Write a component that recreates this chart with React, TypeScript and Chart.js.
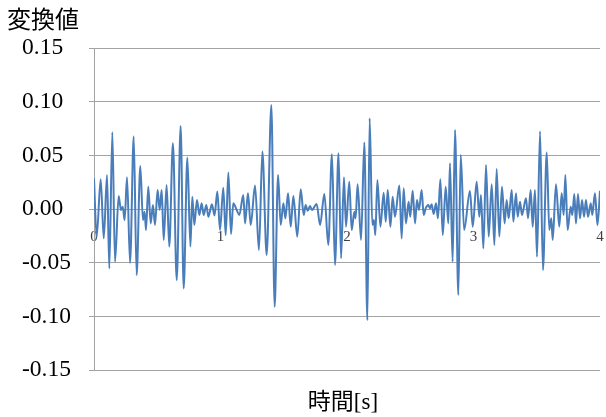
import { useEffect, useRef } from "react";
import { Chart, registerables } from "chart.js";

Chart.register(...registerables);

// Sample times [s] at the turning points of the transformed signal
const timeSec = [
  0.0, 0.021, 0.053, 0.077, 0.103, 0.121, 0.145, 0.166, 0.195, 0.213,
  0.227, 0.242, 0.261, 0.285, 0.314, 0.337, 0.366, 0.387, 0.4, 0.411,
  0.429, 0.448, 0.466, 0.482, 0.503, 0.519, 0.535, 0.551, 0.574, 0.595,
  0.624, 0.654, 0.685, 0.709, 0.738, 0.762, 0.777, 0.793, 0.814, 0.833,
  0.851, 0.867, 0.888, 0.904, 0.932, 0.953, 0.975, 0.996, 1.022, 1.041,
  1.062, 1.083, 1.101, 1.128, 1.149, 1.18, 1.194, 1.217, 1.239, 1.273,
  1.304, 1.331, 1.365, 1.402, 1.428, 1.455, 1.476, 1.497, 1.513, 1.534,
  1.555, 1.576, 1.607, 1.634, 1.658, 1.673, 1.689, 1.708, 1.723, 1.76,
  1.787, 1.821, 1.852, 1.881, 1.905, 1.933, 1.953, 1.976, 1.992, 2.018,
  2.037, 2.058, 2.068, 2.084, 2.111, 2.137, 2.161, 2.179, 2.2, 2.213,
  2.224, 2.24, 2.264, 2.29, 2.306, 2.322, 2.343, 2.361, 2.379, 2.414,
  2.432, 2.448, 2.466, 2.487, 2.5, 2.519, 2.538, 2.553, 2.569, 2.59,
  2.606, 2.622, 2.643, 2.656, 2.669, 2.685, 2.704, 2.719, 2.738, 2.757,
  2.78, 2.801, 2.814, 2.835, 2.854, 2.88, 2.899, 2.926, 2.972, 2.994,
  3.025, 3.046, 3.059, 3.078, 3.099, 3.12, 3.144, 3.165, 3.183, 3.204,
  3.225, 3.246, 3.262, 3.278, 3.302, 3.315, 3.336, 3.349, 3.368, 3.383,
  3.415, 3.431, 3.452, 3.468, 3.486, 3.502, 3.526, 3.549, 3.579, 3.599,
  3.615, 3.626, 3.652, 3.678, 3.697, 3.713, 3.726, 3.744, 3.768, 3.781,
  3.797, 3.81, 3.826, 3.842, 3.858, 3.874, 3.889, 3.905, 3.927, 3.939,
  3.96, 3.98, 4.0,
];

// Transformed value at each of those times
const amplitude = [
  0.0286, -0.0258, 0.0277, -0.0274, 0.0317, -0.0554, 0.0715, -0.0491, 0.0121, -0.0009,
  0.0022, -0.0103, 0.0295, -0.0501, 0.0675, -0.0616, 0.0401, -0.0103, -0.0025, -0.0196,
  0.0208, -0.0134, 0.0037, -0.0149, 0.0177, -0.0009, 0.0177, -0.0289, 0.0224, -0.0351,
  0.0613, -0.0662, 0.0774, -0.074, 0.0479, -0.035, 0.0115, -0.0149, 0.0084, -0.0056,
  0.0053, -0.0056, 0.0037, -0.0072, 0.0045, -0.006, 0.0162, -0.0196, 0.0199, -0.0243,
  0.0339, -0.0233, 0.0053, -0.0009, -0.0056, 0.0131, -0.0134, 0.0146, -0.0149, 0.0218,
  -0.0383, 0.0535, -0.0429, 0.097, -0.0911, 0.0317, -0.0149, 0.0053, -0.0087, 0.0146,
  -0.0165, 0.0121, -0.0258, 0.0183, -0.0056, 0.0037, -0.0016, 0.0028, -0.0009, 0.0047,
  -0.0149, 0.014, -0.0336, 0.0513, -0.0522, 0.0519, -0.046, 0.0295, -0.0165, 0.0255,
  -0.0196, -0.0025, -0.0087, 0.023, -0.0289, 0.0619, -0.1036, 0.0846, -0.0149, -0.0103,
  -0.0243, 0.0271, -0.0165, 0.0152, -0.0118, 0.0177, -0.0165, 0.0115, -0.0072, 0.0218,
  -0.0274, 0.0193, -0.0134, 0.0068, -0.0072, 0.0171, -0.0134, 0.0084, -0.0009, 0.0177,
  -0.0056, 0.0006, 0.0037, 0.0006, 0.0044, -0.0047, 0.0053, -0.0087, 0.0277, -0.0243,
  0.0208, -0.0134, 0.0426, -0.0491, 0.0737, -0.0802, 0.0504, -0.0196, 0.0168, -0.0165,
  0.0255, -0.0072, 0.0131, -0.0367, 0.0411, -0.0258, 0.023, -0.0336, 0.0373, -0.0258,
  0.0208, -0.0134, 0.0084, -0.0087, 0.0177, -0.0118, 0.0146, -0.0072, 0.0068, -0.0056,
  0.01, -0.0087, 0.0177, -0.0165, 0.0177, -0.0445, 0.0722, -0.0569, 0.0526, -0.0196,
  -0.0087, -0.0289, 0.023, -0.0165, 0.0146, -0.0056, 0.0317, -0.0196, 0.0022, -0.0056,
  0.014, -0.0134, 0.014, -0.0087, 0.0084, -0.0072, 0.0084, -0.0072, 0.0053, -0.0056,
  0.0146, -0.015, 0.017,
];

const xTicks = [0, 1, 2, 3, 4];
const yTicks = [-0.15, -0.1, -0.05, 0, 0.05, 0.1, 0.15];
const yTitle = "変換値";
const xTitle = "時間[s]";

const GRID = "#a3a3a3";

// Draws the value caption above the y axis and the time caption under the plot
const captions = {
  id: "captions",
  afterDraw(chart: any) {
    const { ctx, chartArea } = chart;
    ctx.save();
    ctx.fillStyle = "#000";
    ctx.textBaseline = "alphabetic";
    ctx.textAlign = "left";
    ctx.font = '24px "Noto Sans CJK JP"';
    ctx.fillText(yTitle, 7, 28);
    ctx.textAlign = "center";
    ctx.font = '23px "Liberation Serif", "Noto Sans CJK JP"';
    ctx.fillText(xTitle, (chartArea.left + chartArea.right) / 2 - 4, chartArea.bottom + 39);
    ctx.restore();
  },
};

export default function App() {
  const canvasRef = useRef<HTMLCanvasElement | null>(null);

  useEffect(() => {
    const canvas = canvasRef.current;
    if (!canvas) return;
    const points = timeSec.map((t, i) => ({ x: t, y: amplitude[i] }));

    const chart = new Chart(canvas, {
      type: "line",
      data: {
        datasets: [
          {
            data: points,
            borderColor: "#4a7ebb",
            borderWidth: 2,
            pointRadius: 0,
            fill: false,
            cubicInterpolationMode: "monotone",
          },
        ],
      },
      options: {
        responsive: false,
        animation: false,
        devicePixelRatio: 1,
        layout: { padding: { left: 22, top: 48, right: 6, bottom: 47 } },
        plugins: {
          legend: { display: false },
          tooltip: { enabled: false },
          title: { display: false },
        },
        scales: {
          x: {
            type: "linear",
            min: 0,
            max: 4,
            position: { y: 0 } as any,
            afterBuildTicks: (s: any) => {
              s.ticks = xTicks.map((v) => ({ value: v }));
            },
            grid: { display: false, drawTicks: false },
            border: { display: false },
            ticks: {
              // the tall line box drops the labels well below the zero line
              padding: 0,
              autoSkip: false,
              maxRotation: 0,
              color: "#404040",
              font: { family: "Liberation Serif", size: 15, lineHeight: "56px" },
              callback: (v: any) => String(v),
            },
          },
          y: {
            type: "linear",
            min: -0.15,
            max: 0.15,
            afterBuildTicks: (s: any) => {
              s.ticks = yTicks.map((v) => ({ value: v }));
            },
            afterFit: (s: any) => {
              s.width = 72;
            },
            grid: { color: GRID, lineWidth: 1, drawTicks: true, tickLength: 5 },
            border: { display: true, color: GRID, width: 1 },
            ticks: {
              crossAlign: "far",
              color: "#000",
              font: { family: "Liberation Serif", size: 23.5 },
              callback: (v: any) => Number(v).toFixed(2),
            },
          },
        },
      },
      plugins: [captions],
    });

    return () => chart.destroy();
  }, []);

  return (
    <div style={{ position: "absolute", left: 0, top: 0, width: 606, height: 417, background: "#fff" }}>
      <canvas ref={canvasRef} width={606} height={417} style={{ display: "block" }} />
    </div>
  );
}
